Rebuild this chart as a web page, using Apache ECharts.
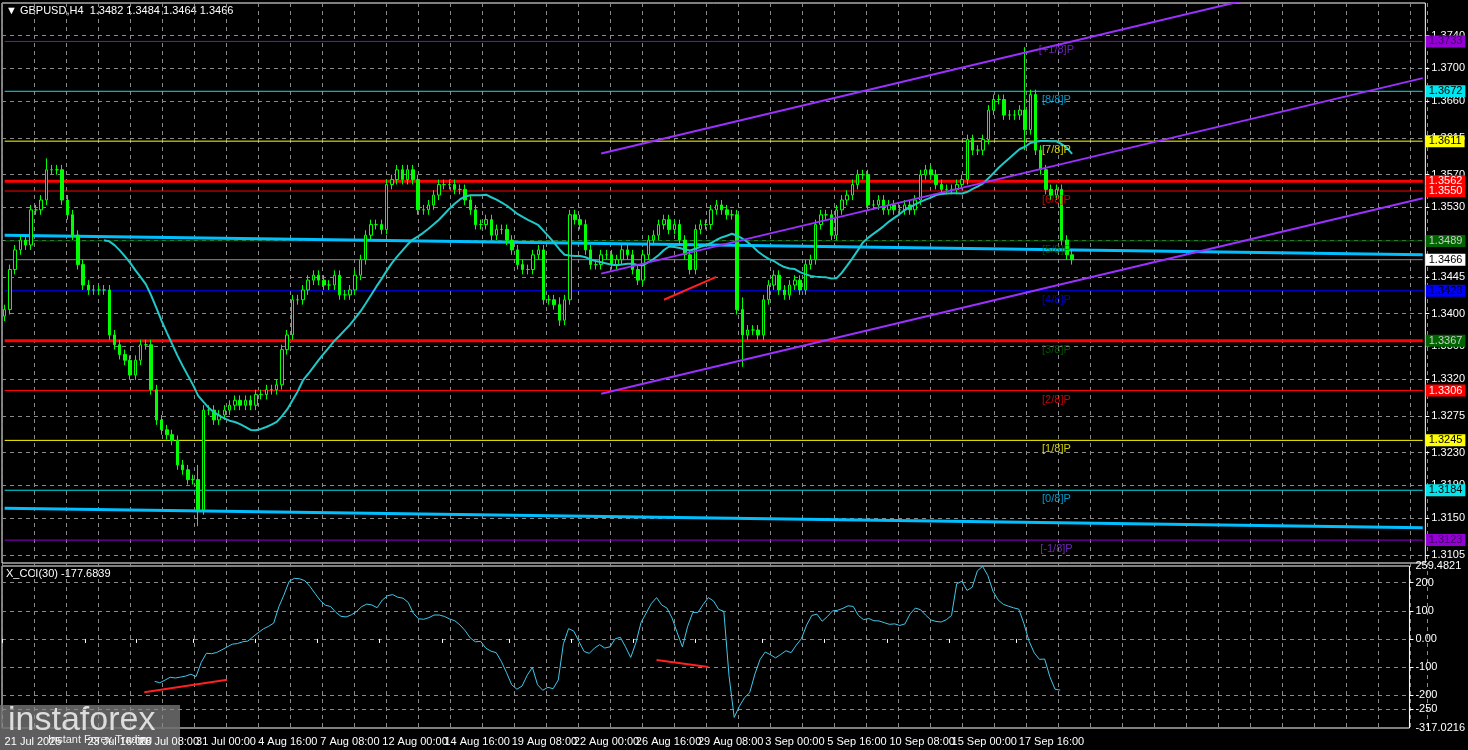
<!DOCTYPE html>
<html><head><meta charset="utf-8">
<script src="https://cdn.jsdelivr.net/npm/echarts@6/dist/echarts.min.js"></script>
<style>html,body{margin:0;background:#000}#c{width:1468px;height:750px}</style></head>
<body><div id="c"></div>
<script>
const closes=[1.3405,1.3454,1.3478,1.3490,1.3484,1.3527,1.3527,1.3539,1.3576,1.3576,1.3576,1.3539,1.3521,1.3496,1.3460,1.3435,1.3429,1.3429,1.3429,1.3429,1.3374,1.3362,1.3350,1.3343,1.3325,1.3343,1.3362,1.3362,1.3307,1.3270,1.3258,1.3252,1.3245,1.3215,1.3209,1.3197,1.3197,1.3160,1.3282,1.3282,1.3270,1.3276,1.3282,1.3288,1.3294,1.3288,1.3294,1.3288,1.3301,1.3301,1.3307,1.3307,1.3313,1.3356,1.3374,1.3417,1.3417,1.3429,1.3441,1.3447,1.3441,1.3435,1.3435,1.3447,1.3423,1.3423,1.3429,1.3447,1.3466,1.3496,1.3509,1.3509,1.3503,1.3558,1.3564,1.3576,1.3564,1.3576,1.3564,1.3527,1.3527,1.3533,1.3545,1.3558,1.3558,1.3558,1.3552,1.3552,1.3539,1.3527,1.3509,1.3509,1.3515,1.3496,1.3503,1.3503,1.3490,1.3478,1.3460,1.3454,1.3454,1.3472,1.3478,1.3417,1.3417,1.3411,1.3392,1.3417,1.3521,1.3515,1.3509,1.3478,1.3460,1.3460,1.3472,1.3472,1.3460,1.3466,1.3478,1.3472,1.3454,1.3441,1.3472,1.3490,1.3496,1.3509,1.3515,1.3503,1.3509,1.3490,1.3472,1.3454,1.3503,1.3509,1.3509,1.3527,1.3533,1.3527,1.3521,1.3521,1.3405,1.3374,1.3380,1.3380,1.3374,1.3417,1.3435,1.3447,1.3429,1.3423,1.3435,1.3441,1.3429,1.3460,1.3466,1.3509,1.3521,1.3521,1.3496,1.3527,1.3539,1.3545,1.3558,1.3570,1.3570,1.3533,1.3533,1.3539,1.3527,1.3533,1.3527,1.3527,1.3533,1.3527,1.3539,1.3570,1.3576,1.3570,1.3558,1.3552,1.3552,1.3552,1.3558,1.3564,1.3613,1.3600,1.3600,1.3613,1.3649,1.3662,1.3662,1.3643,1.3643,1.3643,1.3649,1.3625,1.3668,1.3600,1.3576,1.3552,1.3545,1.3552,1.3490,1.3472,1.3466];
const extremes={37:[1.3215,1.3140],141:[1.3420,1.3335],106:[1.3420,1.3385],195:[1.3726,1.3600],8:[1.3590,1.3560]};
const totalSlots=272;
const dateLabels=[[0,'21 Jul 2025'],[16,'23 Jul 16:00'],[26,'28 Jul 08:00'],[37,'31 Jul 00:00'],[49,'4 Aug 16:00'],[61,'7 Aug 08:00'],[73,'12 Aug 00:00'],[85,'14 Aug 16:00'],[98,'19 Aug 08:00'],[110,'22 Aug 00:00'],[122,'26 Aug 16:00'],[134,'29 Aug 08:00'],[147,'3 Sep 00:00'],[159,'5 Sep 16:00'],[171,'10 Sep 08:00'],[183,'15 Sep 00:00'],[196,'17 Sep 16:00']];
const priceTicks=[1.3740,1.3700,1.3660,1.3615,1.3570,1.3530,1.3490,1.3445,1.3400,1.3360,1.3320,1.3275,1.3230,1.3190,1.3150,1.3105];
const levels=[[1.3733,'#9400d3',1,'#3a0060','[+1/8]P'],[1.3672,'#00e5ee',1,'#000','[8/8]P'],[1.3611,'#ffff00',1,'#000','[7/8]P'],[1.3562,'#ff0000',3,'#fff',''],[1.3550,'#ff0000',1,'#fff','[6/8]P'],[1.3489,'#006400',1,'#ccc','[5/8]P'],[1.3466,'#8a8a9a',1,'#000',''],[1.3428,'#0000ff',1,'#000','[4/8]P'],[1.3367,'#ff0000',3,'#ccc','[3/8]P'],[1.3306,'#ff0000',1,'#fff','[2/8]P'],[1.3245,'#ffff00',1,'#000','[1/8]P'],[1.3184,'#00e5ee',1,'#000','[0/8]P'],[1.3123,'#9400d3',1,'#3a0060','[-1/8]P']];
const labelBg={1.3466:'#ffffff',1.3367:'#006400'};
const murreyText={'[+1/8]P':'#8a2be2','[8/8]P':'#00bfff','[7/8]P':'#ffff00','[6/8]P':'#ff0000','[5/8]P':'#006400','[4/8]P':'#0000ff','[3/8]P':'#006400','[2/8]P':'#ff0000','[1/8]P':'#ffff00','[0/8]P':'#00bfff','[-1/8]P':'#8a2be2'};
const longMA1=[1.3496,1.3472], longMA2=[1.3162,1.3138];
const channel={start:113.7,mid:1.3449,width:0.0147,slopePerBar:0.000152};
const redPrice=[[126,1.3417],[136,1.3445]];
const redCCI=[[[27,-190],[43,-145]],[[126,-75],[136,-100]]];
const maPeriod=20, cciPeriod=30;

const cats=[];for(let i=0;i<totalSlots;i++)cats.push('');
dateLabels.forEach(d=>cats[d[0]]=d[1]);
const ohlc=closes.map((c,i)=>{const o=i?closes[i-1]:c-0.0008;let hi=Math.max(o,c)+0.0006,lo=Math.min(o,c)-0.0006;if(extremes[i]){hi=Math.max(hi,extremes[i][0]);lo=Math.min(lo,extremes[i][1]);}return [o,c,lo,hi];});
const ma=closes.map((c,i)=>i<maPeriod-1?null:+(closes.slice(i-maPeriod+1,i+1).reduce((a,b)=>a+b,0)/maPeriod).toFixed(5));
const tp=ohlc.map(d=>(d[1]+d[2]+d[3])/3);
const cci=tp.map((t,i)=>{if(i<cciPeriod-1)return null;const w=tp.slice(i-cciPeriod+1,i+1);const m=w.reduce((a,b)=>a+b,0)/cciPeriod;const md=w.reduce((a,b)=>a+Math.abs(b-m),0)/cciPeriod;return md?+((t-m)/(0.015*md)).toFixed(1):0;});
const lastI=totalSlots-1;
const chLine=off=>[[Math.round(channel.start),channel.mid+off],[lastI,channel.mid+off+channel.slopePerBar*(lastI-channel.start)]];
const ax={color:'#fff',fontSize:11,fontFamily:'Liberation Sans'};
const levelSeries=levels.map(l=>({type:'line',xAxisIndex:0,yAxisIndex:0,data:[[0,l[0]],[lastI,l[0]]],symbol:'none',silent:true,lineStyle:{color:l[1],width:l[2]},z:2,
 endLabel:{show:true,formatter:l[0].toFixed(4),backgroundColor:labelBg[l[0]]||l[1],color:l[3],padding:[1,3,0,3],fontSize:11,fontFamily:'Liberation Sans',distance:3}}));
const murrey=levels.filter(l=>l[4]).map(l=>({value:[201,l[0]],name:l[4],label:{color:murreyText[l[4]]}}));
const opt={backgroundColor:'#000',animation:false,
grid:[{left:2,right:41,top:3,height:560,show:true,borderColor:'#fff',borderWidth:1},{left:2,right:41,top:566,height:162,show:true,borderColor:'#fff',borderWidth:1},{left:2,right:41,top:3,height:725}],
xAxis:[{type:'category',data:cats,gridIndex:0,axisLabel:{show:false},axisTick:{show:false},axisLine:{show:false},splitLine:{show:false},boundaryGap:true},
{type:'category',data:cats,gridIndex:1,axisLine:{show:false},axisTick:{show:true,interval:(i,v)=>v!=='',lineStyle:{color:'#fff'},length:4},axisLabel:{...ax,interval:(i,v)=>v!=='',hideOverlap:false,showMaxLabel:true,align:'left',margin:8},splitLine:{show:false}},
{type:'value',gridIndex:2,min:0,max:1425,interval:32,axisLabel:{show:false},axisTick:{show:false},axisLine:{show:false},splitLine:{show:true,lineStyle:{color:'#8a8a8a',type:[4,4],width:1}}}],
yAxis:[{type:'value',gridIndex:0,position:'right',min:1.3095,max:1.3780,axisLine:{show:false},axisTick:{show:true,customValues:priceTicks,lineStyle:{color:'#fff'},length:4},axisLabel:{...ax,customValues:priceTicks,formatter:v=>v.toFixed(4),margin:6},splitLine:{show:true,lineStyle:{color:'#8a8a8a',type:[4,4]}}},
{type:'value',gridIndex:1,position:'right',min:-317.0216,max:259.4821,axisLine:{show:false},axisTick:{show:true,customValues:[200,100,0,-100,-200,-250],lineStyle:{color:'#fff'},length:4},axisLabel:{...ax,customValues:[259.4821,200,100,0,-100,-200,-250,-317.0216],formatter:v=>v===0?'0.00':(Math.abs(v)>255?v.toFixed(4):String(v)),margin:6},splitLine:{show:true,lineStyle:{color:'#8a8a8a',type:[4,4]}}},
{type:'value',gridIndex:2,show:false,min:0,max:1}],
series:[
...levelSeries,
{type:'line',xAxisIndex:0,yAxisIndex:0,data:[[0,longMA1[0]],[lastI,longMA1[1]]],symbol:'none',lineStyle:{color:'#00bfff',width:3},z:3},
{type:'line',xAxisIndex:0,yAxisIndex:0,data:[[0,longMA2[0]],[lastI,longMA2[1]]],symbol:'none',lineStyle:{color:'#00bfff',width:3},z:3},
{type:'candlestick',xAxisIndex:0,yAxisIndex:0,data:ohlc,barWidth:3,itemStyle:{color:'#000',color0:'#00ff00',borderColor:'#00ff00',borderColor0:'#00ff00',borderWidth:1},z:5},
{type:'line',xAxisIndex:0,yAxisIndex:0,data:ma,symbol:'none',lineStyle:{color:'#20c8c8',width:2},z:6},
...[0,channel.width,-channel.width].map(o=>({type:'line',xAxisIndex:0,yAxisIndex:0,data:chLine(o),symbol:'none',lineStyle:{color:'#9b30ff',width:2},z:7})),
{type:'line',xAxisIndex:0,yAxisIndex:0,data:redPrice,symbol:'none',lineStyle:{color:'#ff2020',width:2},z:8},
{type:'scatter',xAxisIndex:0,yAxisIndex:0,data:murrey,symbolSize:1,itemStyle:{color:'rgba(0,0,0,0)'},label:{show:true,position:'bottom',distance:3,formatter:p=>p.name,fontSize:11,fontFamily:'Liberation Sans'},z:9},
{type:'line',xAxisIndex:1,yAxisIndex:1,data:cci,symbol:'none',lineStyle:{color:'#3fc8e8',width:1},z:5},
...redCCI.map(r=>({type:'line',xAxisIndex:1,yAxisIndex:1,data:r,symbol:'none',lineStyle:{color:'#ff2020',width:2},z:6}))
],
graphic:[
{type:'text',left:6,top:5,style:{text:'▼ GBPUSD,H4  1.3482 1.3484 1.3464 1.3466',fill:'#fff',font:'11px Liberation Sans'}},
{type:'text',left:6,top:568,style:{text:'X_CCI(30) -177.6839',fill:'#fff',font:'11px Liberation Sans'}},
{type:'rect',left:0,top:705,shape:{width:180,height:45},style:{fill:'rgba(110,110,110,0.85)'}},
{type:'text',left:8,top:704,style:{text:'instaforex',fill:'#ddd',font:'34px Liberation Sans'}},
{type:'text',left:48,top:734,style:{text:'Instant Forex Trading',fill:'#eee',font:'11px Liberation Sans'}}
]};
const ch=echarts.init(document.getElementById('c'));ch.setOption(opt);
</script></body></html>
